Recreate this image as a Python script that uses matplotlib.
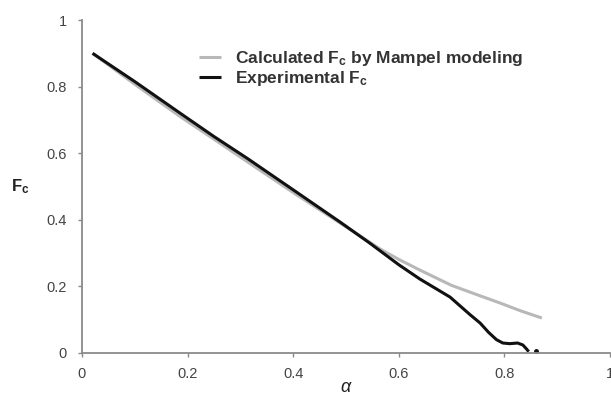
import matplotlib.pyplot as plt

plt.rcParams['font.family'] = ['Liberation Sans', 'DejaVu Sans']
plt.rcParams['mathtext.fontset'] = 'custom'
plt.rcParams['mathtext.rm'] = 'Liberation Sans'
plt.rcParams['mathtext.it'] = 'Liberation Sans:italic'
plt.rcParams['mathtext.bf'] = 'Liberation Sans:bold'

# Fraction of catalyst Fc against conversion alpha
alpha_calc = [0.02, 0.10, 0.186, 0.25, 0.3125, 0.40, 0.489, 0.53, 0.565, 0.60, 0.64, 0.70, 0.75, 0.792, 0.83, 0.871]
fc_calc = [0.90, 0.807, 0.71, 0.642, 0.575, 0.482, 0.39, 0.348, 0.312, 0.281, 0.249, 0.203, 0.174, 0.150, 0.127, 0.105]

alpha_exp = [0.02, 0.10, 0.186, 0.25, 0.3125, 0.40, 0.489, 0.545, 0.60, 0.64, 0.697, 0.735, 0.754,
             0.77, 0.785, 0.797, 0.81, 0.825, 0.835, 0.842, 0.846]
fc_exp = [0.90, 0.815, 0.72, 0.65, 0.585, 0.49, 0.393, 0.33, 0.265, 0.222, 0.168, 0.115, 0.09,
          0.062, 0.04, 0.03, 0.028, 0.03, 0.024, 0.012, 0.004]
alpha_dot = [0.86]
fc_dot = [0.005]

fig = plt.figure(figsize=(6.11, 3.94), dpi=100)
ax = fig.add_axes([82 / 611, 41 / 394, 528 / 611, 333 / 394])

ax.plot(alpha_calc, fc_calc, color='#b8b8b8', lw=2.2, solid_capstyle='butt',
        label=r'Calculated F$_{\mathbf{c}}$ by Mampel modeling')
ax.plot(alpha_exp, fc_exp, color='#111111', lw=2.2, solid_capstyle='butt',
        label=r'Experimental F$_{\mathbf{c}}$')
ax.plot(alpha_dot, fc_dot, 'o', color='#111111', ms=2.5)

ax.set_xlim(0, 1)
ax.set_ylim(0, 1)
ax.set_xticks([0, 0.2, 0.4, 0.6, 0.8, 1])
ax.set_xticklabels(['0', '0.2', '0.4', '0.6', '0.8', '1'])
ax.set_yticks([0, 0.2, 0.4, 0.6, 0.8, 1])
ax.set_yticklabels(['0', '0.2', '0.4', '0.6', '0.8', '1'])

for side in ['top', 'right']:
    ax.spines[side].set_visible(False)
for side in ['left', 'bottom']:
    ax.spines[side].set_color('#8a8a8a')
    ax.spines[side].set_linewidth(1.3)

ax.tick_params(axis='both', direction='out', length=3, width=1, color='#8a8a8a',
               labelsize=10.5, labelcolor='#444444')
ax.tick_params(axis='x', pad=7)
ax.tick_params(axis='y', pad=8)

ax.set_xlabel(r'$\alpha$', fontsize=13, color='#222222')
ax.xaxis.set_label_coords(0.5, -0.078)
ax.set_ylabel(r'F$_{\mathbf{c}}$', fontsize=12, fontweight='bold', color='#222222',
              rotation=0, va='center', ha='center')
ax.yaxis.set_label_coords(-0.117, 0.5)

leg = ax.legend(loc='upper left', bbox_to_anchor=(190 / 611, 1 - 40 / 394),
                bbox_transform=fig.transFigure, frameon=False, borderpad=0,
                handlelength=1.3, handletextpad=0.8, labelspacing=0.1,
                prop={'weight': 'bold', 'size': 12.5})
for t in leg.get_texts():
    t.set_color('#333333')

fig.savefig('out.png', dpi=100)
